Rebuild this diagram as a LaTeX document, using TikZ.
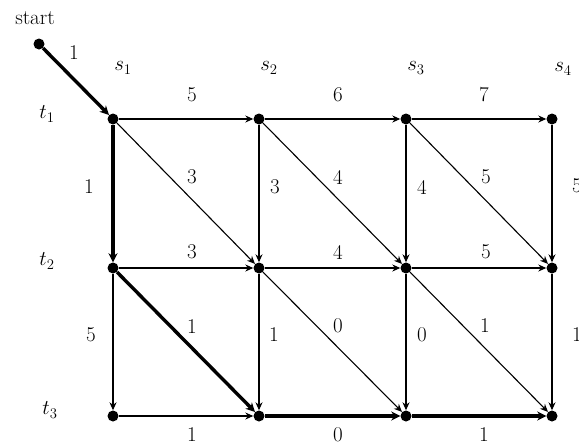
\RequirePackage{fix-cm}
\documentclass[tikz,border=0pt]{standalone}
\usetikzlibrary{arrows.meta}
\begin{document}
\begin{tikzpicture}[x=1pt,y=-1pt,
  dotnode/.style={circle,fill=black,inner sep=0pt,minimum size=11pt},
  thin edge/.style={line width=1.1pt,-{Stealth[length=8pt,width=7pt]}},
  thick edge/.style={line width=3.4pt,-{Stealth[length=9pt,width=9pt]}},
  lbl/.style={inner sep=0pt,font=\fontsize{21}{25}\selectfont}]
\useasboundingbox (0,0) rectangle (579,445);
\clip (0,0) rectangle (579,445);
% nodes
\node[dotnode] (st) at (39,44) {};
\foreach \c/\x in {1/113,2/259,3/406,4/552}{
  \foreach \r/\y in {1/119,2/268,3/416}{
    \node[dotnode] (n\c\r) at (\x,\y) {};
  }
}
% thin edges
\draw[thin edge] (n11) -- (n21);
\draw[thin edge] (n21) -- (n31);
\draw[thin edge] (n31) -- (n41);
\draw[thin edge] (n21) -- (n22);
\draw[thin edge] (n31) -- (n32);
\draw[thin edge] (n41) -- (n42);
\draw[thin edge] (n11) -- (n22);
\draw[thin edge] (n21) -- (n32);
\draw[thin edge] (n31) -- (n42);
\draw[thin edge] (n12) -- (n22);
\draw[thin edge] (n22) -- (n32);
\draw[thin edge] (n32) -- (n42);
\draw[thin edge] (n12) -- (n13);
\draw[thin edge] (n22) -- (n23);
\draw[thin edge] (n32) -- (n33);
\draw[thin edge] (n42) -- (n43);
\draw[thin edge] (n22) -- (n33);
\draw[thin edge] (n32) -- (n43);
\draw[thin edge] (n13) -- (n23);
% thick path
\draw[thick edge] (st) -- (n11);
\draw[thick edge] (n11) -- (n12);
\draw[thick edge] (n12) -- (n23);
\draw[thick edge] (n23) -- (n33);
\draw[thick edge] (n33) -- (n43);
% axis labels
\node[lbl] (lstart) at (35,18) {start};
\node[lbl] (ls1) at (123,68) {$s_1$};
\node[lbl] (ls2) at (269,68) {$s_2$};
\node[lbl] (ls3) at (416,68) {$s_3$};
\node[lbl] (ls4) at (563,69) {$s_4$};
\node[lbl] (lt1) at (47,114) {$t_1$};
\node[lbl] (lt2) at (47,261) {$t_2$};
\node[lbl] (lt3) at (50,410) {$t_3$};
% edge labels
\node[lbl] (w0) at (74,53) {1};
\node[lbl] (a1) at (192,95) {5};
\node[lbl] (a2) at (338,95) {6};
\node[lbl] (a3) at (484,95) {7};
\node[lbl] (v11) at (89,187) {1};
\node[lbl] (v21) at (275,187) {3};
\node[lbl] (v31) at (422,187) {4};
\node[lbl] (v41) at (577,186) {5};
\node[lbl] (d11) at (192,177) {3};
\node[lbl] (d21) at (338,177) {4};
\node[lbl] (d31) at (486,177) {5};
\node[lbl] (h12) at (192,252) {3};
\node[lbl] (h22) at (338,252) {4};
\node[lbl] (h32) at (486,252) {5};
\node[lbl] (v12) at (91,335) {5};
\node[lbl] (v22) at (274,335) {1};
\node[lbl] (v32) at (422,335) {0};
\node[lbl] (v42) at (577,335) {1};
\node[lbl] (d12) at (192,327) {1};
\node[lbl] (d22) at (338,326) {0};
\node[lbl] (d32) at (485,326) {1};
\node[lbl] (b1) at (192,435) {1};
\node[lbl] (b2) at (338,435) {0};
\node[lbl] (b3) at (484,435) {1};
\end{tikzpicture}
\end{document}
